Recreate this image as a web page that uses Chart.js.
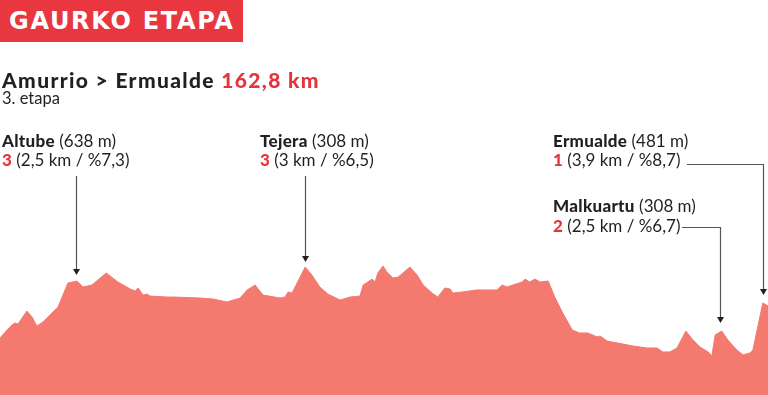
<!DOCTYPE html>
<html>
<head>
<meta charset="utf-8">
<script src="https://cdn.jsdelivr.net/npm/chart.js@4.4.1/dist/chart.umd.min.js"></script>
<style>
  html, body { margin: 0; padding: 0; background: #fff; overflow: hidden; }
  #wrap { position: relative; width: 768px; height: 395px; font-family: "Lato", "Roboto", sans-serif; color: #231f20; }
  #c { position: absolute; left: 0; top: 0; }
  .t { position: absolute; white-space: nowrap; line-height: 1; }
  .hdr { position: absolute; left: 0; top: 0; width: 243px; height: 42px; background: #e8373f; }
  .hdr span { position: absolute; left: 9px; top: 9px; font-family: "DejaVu Sans", sans-serif; font-size: 24px; font-weight: 700; color: #fff; line-height: 1; letter-spacing: 1.7px; }
  .title { left: 2px; top: 68.5px; font-size: 21px; font-weight: 900; letter-spacing: 1.35px; }
  .red { color: #e6343c; }
  .sub { left: 2px; top: 90px; font-size: 16.5px; }
  .lab { font-size: 17px; }
  .lab b { font-weight: 900; letter-spacing: 0.3px; }
  .lab .n { font-weight: 900; color: #e6343c; }
</style>
</head>
<body>
<div id="wrap">
  <canvas id="c" width="768" height="395"></canvas>
  <div class="hdr"><span>GAURKO ETAPA</span></div>
  <div class="t title">Amurrio &gt; Ermualde <span class="red">162,8 km</span></div>
  <div class="t sub">3. etapa</div>

  <div class="t lab" style="left:2px;top:131.5px"><b>Altube</b> (638 m)</div>
  <div class="t lab" style="left:2px;top:151px"><span class="n">3</span> (2,5 km / %7,3)</div>

  <div class="t lab" style="left:260px;top:131.5px"><b>Tejera</b> (308 m)</div>
  <div class="t lab" style="left:260px;top:151px"><span class="n">3</span> (3 km / %6,5)</div>

  <div class="t lab" style="left:553px;top:131.5px"><b>Ermualde</b> (481 m)</div>
  <div class="t lab" style="left:553px;top:151px"><span class="n">1</span> (3,9 km / %8,7)</div>

  <div class="t lab" style="left:553px;top:196.5px"><b>Malkuartu</b> (308 m)</div>
  <div class="t lab" style="left:553px;top:217px"><span class="n">2</span> (2,5 km / %6,7)</div>
</div>
<script>
// Distance along the stage (km)
const distanceKm = [0,1.5,2.5,3.2,3.8,5.7,6.8,7.8,9.1,10.6,12.3,14.4,15.3,16.3,17.6,19.5,22.5,25.0,27.6,28.6,29.3,30.3,31.2,31.8,35.4,36.7,42.4,45.2,48.1,50.9,52.4,54.1,54.7,55.8,59.4,60.4,61.1,61.9,64.7,66.1,67.8,69.5,72.1,74.2,76.3,77.0,78.9,79.5,80.1,81.2,82.0,83.3,84.4,86.9,88.4,89.7,91.6,92.8,94.3,95.4,96.0,98.1,101.1,105.4,106.4,107.5,108.1,110.7,111.3,112.3,113.4,114.5,116.2,117.6,119.3,121.3,122.9,124.6,126.6,127.2,128.7,132.1,134.2,137.2,139.3,140.5,142.0,143.5,145.4,146.7,148.4,150.1,150.9,151.6,153.0,154.3,156.2,157.5,159.0,159.6,161.7,162.8];
// Profile height (as drawn)
const elevationM = [289,329,354,365,359,425,395,349,370,405,446,567,572,577,547,557,618,572,537,527,542,506,511,501,496,496,491,486,471,491,532,557,537,506,491,496,522,516,648,608,547,511,481,496,501,557,587,572,618,653,623,592,597,648,608,557,516,496,542,537,516,522,532,532,557,547,552,572,587,572,587,572,577,496,415,329,314,314,294,299,273,258,248,238,238,218,218,238,324,284,243,218,197,304,324,278,228,203,213,228,466,451];
// Climbs: name, km of summit, drawn height of summit
const climbNames = ["Altube","Tejera","Malkuartu","Ermualde"];
const climbKm = [16.1, 64.7, 152.6, 161.7];
const climbElev = [577, 648, 324, 466];

const profile = distanceKm.map((x, i) => ({ x: x, y: elevationM[i] }));

// leader line geometry (pixels for label anchors)
const leaders = [
  { top: 176, gap: 6 },
  { top: 176, gap: 5 },
  { hx: 682, hy: 227, gap: 8 },
  { hx: 687, hy: 164, gap: 8 }
];

const arrowPlugin = {
  id: 'arrows',
  afterDatasetsDraw(chart) {
    const ctx = chart.ctx;
    const xs = chart.scales.x, ys = chart.scales.y;
    ctx.save();
    ctx.strokeStyle = '#555';
    ctx.fillStyle = '#231f20';
    ctx.lineWidth = 1.2;
    climbKm.forEach((km, i) => {
      const px = Math.round(xs.getPixelForValue(km)) + 0.5;
      const tip = ys.getPixelForValue(climbElev[i]) - leaders[i].gap;
      const L = leaders[i];
      ctx.beginPath();
      if (L.hx !== undefined) {
        ctx.moveTo(L.hx, L.hy + 0.5);
        ctx.lineTo(px, L.hy + 0.5);
        ctx.lineTo(px, tip - 5);
      } else {
        ctx.moveTo(px, L.top);
        ctx.lineTo(px, tip - 5);
      }
      ctx.stroke();
      ctx.beginPath();
      ctx.moveTo(px - 3.5, tip - 6);
      ctx.lineTo(px + 3.5, tip - 6);
      ctx.lineTo(px, tip);
      ctx.closePath();
      ctx.fill();
    });
    ctx.restore();
  }
};

new Chart(document.getElementById('c'), {
  type: 'line',
  data: {
    datasets: [{
      data: profile,
      fill: 'origin',
      backgroundColor: '#f47a70',
      borderColor: '#f47a70',
      borderWidth: 1,
      pointRadius: 0,
      tension: 0
    }]
  },
  options: {
    responsive: false,
    animation: false,
    layout: { padding: 0 },
    scales: {
      x: { type: 'linear', min: 0, max: 162.8, display: false },
      y: { min: 0, max: 2000, display: false }
    },
    plugins: { legend: { display: false }, tooltip: { enabled: false } }
  },
  plugins: [arrowPlugin]
});
</script>
</body>
</html>
